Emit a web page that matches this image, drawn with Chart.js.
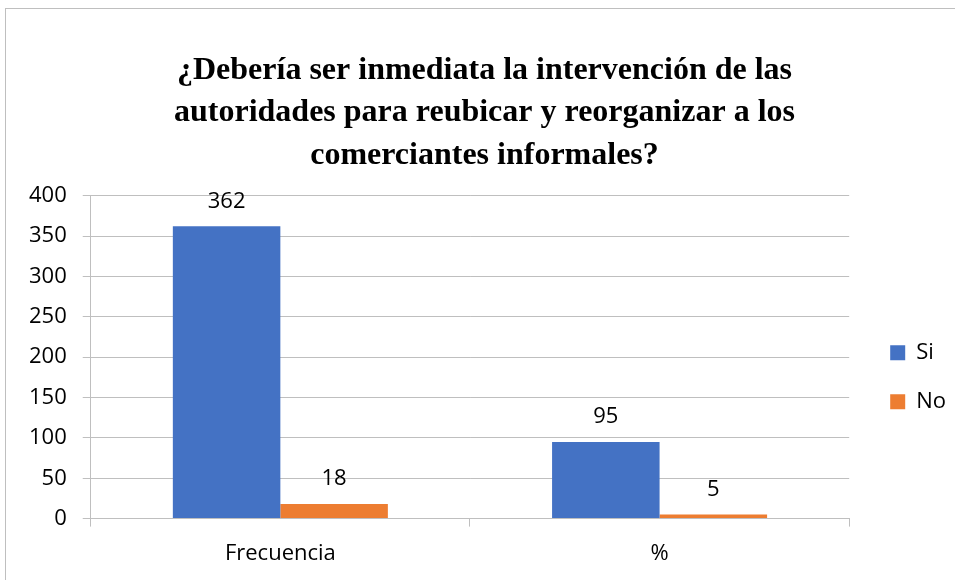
<!DOCTYPE html>
<html lang="es">
<head>
    <meta charset="UTF-8">
    <title>Intervención de las autoridades</title>
    <script src="https://cdn.jsdelivr.net/npm/chart.js@4.4.8/dist/chart.umd.js"></script>
    <style>
        html, body { margin: 0; padding: 0; overflow: hidden; background: #fff; }
        #frame {
            position: absolute; left: 5px; top: 8px;
            width: 1000px; height: 620px;
            border: 1px solid #bfbfbf;
        }
        #chart { position: absolute; left: 0; top: 0; }
    </style>
</head>
<body>
    <div id="frame"><canvas id="chart" width="950" height="572"></canvas></div>
    <script>
        const categories = ['Frecuencia', '%'];
        const siValues = [362, 95];
        const noValues = [18, 5];
        const titleLines = [
            '¿Debería ser inmediata la intervención de las',
            'autoridades para reubicar y reorganizar a los',
            'comerciantes informales?'
        ];

        const labelFont = '"Open Sans", Lato, sans-serif';

        // value labels above each bar
        const valueLabels = {
            id: 'valueLabels',
            afterDatasetsDraw(chart) {
                const ctx = chart.ctx;
                ctx.save();
                ctx.font = '22px ' + labelFont;
                ctx.fillStyle = '#000';
                ctx.textAlign = 'center';
                ctx.textBaseline = 'middle';
                chart.data.datasets.forEach((ds, i) => {
                    chart.getDatasetMeta(i).data.forEach((bar, j) => {
                        ctx.fillText(ds.data[j], bar.x, bar.y - 25);
                    });
                });
                ctx.restore();
            }
        };

        new Chart(document.getElementById('chart'), {
            type: 'bar',
            data: {
                labels: categories,
                datasets: [
                    { label: 'Si', data: siValues, backgroundColor: '#4472c4' },
                    { label: 'No', data: noValues, backgroundColor: '#ed7d31' }
                ]
            },
            options: {
                responsive: false,
                animation: false,
                layout: { padding: { left: 7, right: 0, top: 20, bottom: 0 } },
                datasets: { bar: { barPercentage: 1, categoryPercentage: 0.567 } },
                plugins: {
                    title: {
                        display: true,
                        text: titleLines,
                        color: '#000',
                        font: { family: '"Liberation Serif", "Times New Roman", serif', size: 32, weight: 'bold', lineHeight: 1.33 },
                        padding: { top: 20, bottom: 19 }
                    },
                    legend: {
                        position: 'right',
                        fullSize: false,
                        title: { display: true, text: '', font: { size: 10 }, padding: 14 },
                        labels: {
                            color: '#000',
                            font: { family: labelFont, size: 22 },
                            boxWidth: 15,
                            boxHeight: 15,
                            padding: 27
                        }
                    },
                    tooltip: { enabled: false }
                },
                scales: {
                    x: {
                        grid: { drawOnChartArea: false, offset: true, tickLength: 8, color: '#bfbfbf' },
                        border: { color: '#bfbfbf' },
                        ticks: { color: '#000', font: { family: labelFont, size: 22 }, padding: 14 }
                    },
                    y: {
                        min: 0,
                        max: 400,
                        grid: { tickLength: 8, color: '#bfbfbf' },
                        border: { color: '#bfbfbf' },
                        ticks: { stepSize: 50, color: '#000', font: { family: labelFont, size: 22 }, padding: 16 }
                    },
                    // empty spacer between the plot and the legend
                    gap: {
                        type: 'linear',
                        position: 'right',
                        grid: { display: false },
                        border: { display: false },
                        ticks: { display: false },
                        afterFit(scale) { scale.width = 14; }
                    }
                }
            },
            plugins: [valueLabels]
        });
    </script>
</body>
</html>
